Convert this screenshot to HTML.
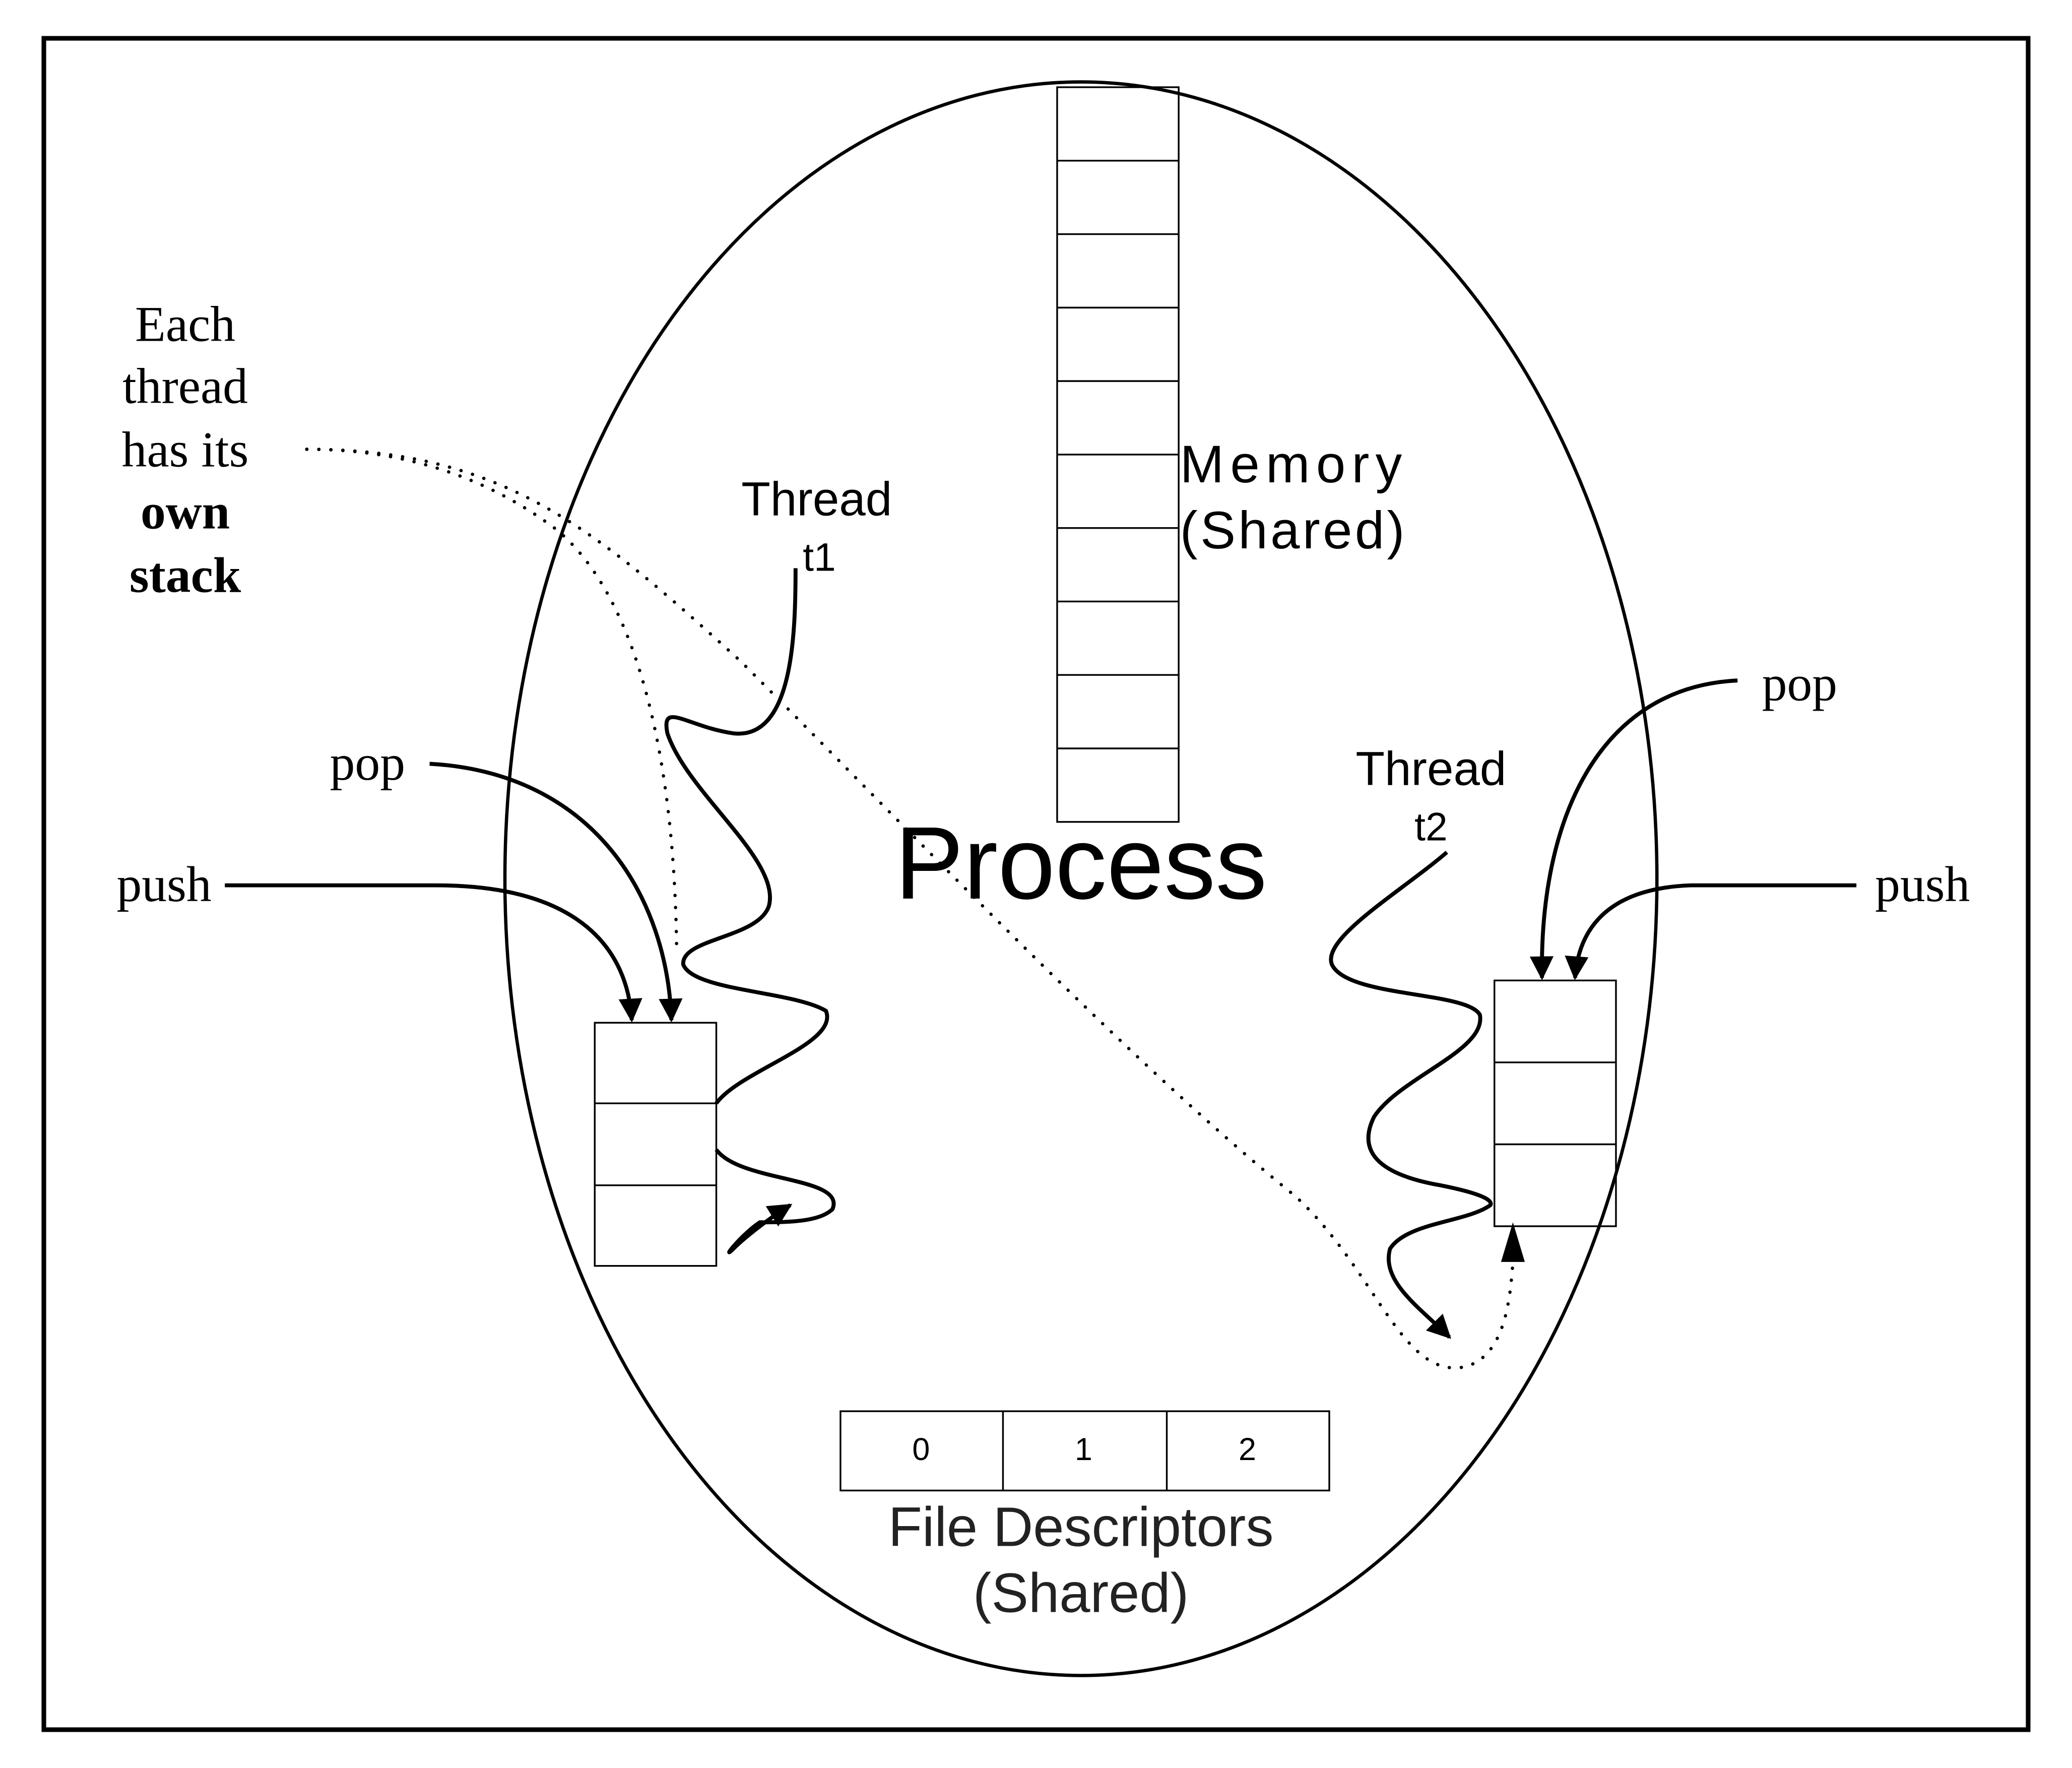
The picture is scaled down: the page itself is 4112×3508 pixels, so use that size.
<!DOCTYPE html>
<html><head><meta charset="utf-8"><style>html,body{margin:0;padding:0;background:#fff}svg{display:block}</style></head>
<body>
<svg width="4112" height="3508" viewBox="0 0 1568 1338" xmlns="http://www.w3.org/2000/svg">
<defs>
<marker id="ab" viewBox="0 0 10 10" refX="9" refY="5" markerWidth="26" markerHeight="18" markerUnits="userSpaceOnUse" orient="auto"><path d="M0,0 L10,5 L0,10 z" fill="#000"/></marker>
</defs>
<rect x="0" y="0" width="1568" height="1338" fill="#fff"/>
<rect x="33" y="29" width="1502" height="1280" fill="none" stroke="#000" stroke-width="3.5"/>
<ellipse cx="818" cy="665" rx="436" ry="603" fill="none" stroke="#000" stroke-width="2.5"/>
<g fill="none" stroke="#000" stroke-width="1.3">
<rect x="800" y="66" width="92" height="556"/>
<path d="M800 121.6H892M800 177.2H892M800 232.8H892M800 288.4H892M800 344H892M800 399.6H892M800 455.2H892M800 510.8H892M800 566.4H892"/>
<rect x="450" y="774" width="92" height="184"/>
<path d="M450 835H542M450 897H542"/>
<rect x="1131" y="742" width="92" height="186"/>
<path d="M1131 804H1223M1131 866H1223"/>
<rect x="636" y="1068" width="370" height="60"/>
<path d="M759 1068V1128M883 1068V1128"/>
</g>
<g font-family="Liberation Sans, sans-serif" fill="#000">
<text x="818" y="680" font-size="78" text-anchor="middle">Process</text>
<text x="893" y="365" font-size="40" textLength="168">Memory</text>
<text x="893" y="415" font-size="40" textLength="170">(Shared)</text>
<text x="697" y="1105" font-size="24" text-anchor="middle">0</text>
<text x="820" y="1105" font-size="24" text-anchor="middle">1</text>
<text x="944" y="1105" font-size="24" text-anchor="middle">2</text>
<text x="818" y="1170" font-size="42" text-anchor="middle" fill="#222">File Descriptors</text>
<text x="818" y="1220" font-size="42" text-anchor="middle" fill="#222">(Shared)</text>
<text x="618" y="390" font-size="36" text-anchor="middle">Thread</text>
<text x="620" y="432" font-size="30" text-anchor="middle">t1</text>
<text x="1083" y="594" font-size="36" text-anchor="middle">Thread</text>
<text x="1083" y="636" font-size="30" text-anchor="middle">t2</text>
</g>
<g font-family="Liberation Serif, serif" fill="#000" font-size="38" text-anchor="middle">
<text x="140" y="258">Each</text>
<text x="140" y="305">thread</text>
<text x="140" y="353">has its</text>
<text x="140" y="400" font-weight="bold">own</text>
<text x="140" y="448" font-weight="bold">stack</text>
<text x="278" y="590">pop</text>
<text x="124" y="682">push</text>
<text x="1362" y="530">pop</text>
<text x="1455" y="682">push</text>
</g>
<g fill="none" stroke="#000" stroke-width="3">
<path d="M170 670 H330 C440 670 475 720 478 772" marker-end="url(#ab)"/>
<path d="M325 578 C450 585 505 680 508 772" marker-end="url(#ab)"/>
<path d="M1315 515 C1210 520 1165 620 1167 740" marker-end="url(#ab)"/>
<path d="M1405 670 H1280 C1220 672 1195 700 1192 740" marker-end="url(#ab)"/>
<path d="M602 430 C602 480 600 560 555 555 C520 550 500 530 505 555 C520 600 590 650 582 685 C575 710 515 710 517 730 C525 750 600 750 625 765 C635 790 560 810 542 835"/>
<path d="M542 870 C560 895 640 890 630 915 C620 925 595 925 575 925 C560 935 545 955 555 945 C565 935 585 920 598 912" marker-end="url(#ab)"/>
<path d="M1095 645 C1060 675 1000 710 1008 730 C1020 755 1110 750 1120 768 C1125 795 1060 815 1040 845 C1025 875 1050 890 1090 897 C1120 903 1130 908 1128 912 C1110 925 1065 925 1052 945 C1045 970 1075 990 1097 1012" marker-end="url(#ab)"/>
</g>
<g fill="none" stroke="#000" stroke-width="2.5" stroke-dasharray="0.1 9" stroke-linecap="round">
<path d="M232 340 C320 340 380 370 420 400 C470 440 510 540 512 720"/>
<path d="M232 340 C380 340 450 400 560 500 C680 620 850 800 980 905 C1040 960 1060 1040 1105 1035 C1140 1030 1143 980 1145 955"/>
</g>
<path d="M1145 925 L1136 955 L1154 955 z" fill="#000"/>
</svg>
</body></html>
